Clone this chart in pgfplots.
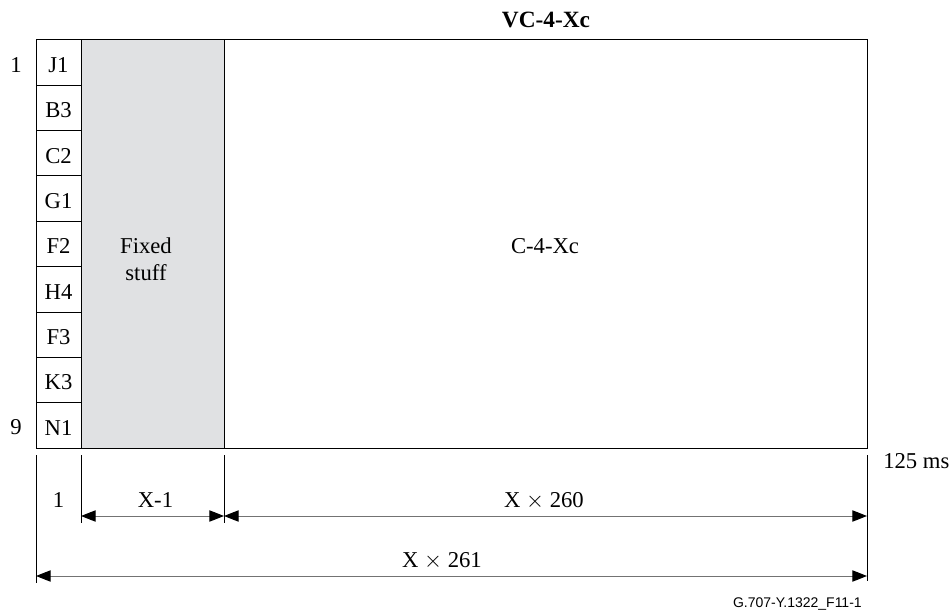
\documentclass[border=0pt]{standalone}
\usepackage{fontspec}
\setmainfont{Liberation Serif}
\newfontfamily\codefont{Liberation Sans}
\usepackage{pgfplots}
\pgfplotsset{compat=1.18}
\usetikzlibrary{arrows.meta}
\definecolor{fixedgrey}{RGB}{224,225,227}
\begin{document}
\begin{tikzpicture}
\begin{axis}[
  scale only axis, width=713.25pt, height=457.5pt,
  xmin=0, xmax=951, ymin=0, ymax=610, y dir=reverse,
  hide axis, clip=false,
  every axis plot/.append style={line width=0.75pt},
]
% invisible frame for bounding box
\addplot[draw=none, forget plot] coordinates {(0,0) (951,610)};
% grey fixed stuff
\addplot[fill=fixedgrey, draw=black] coordinates {(81,40) (224,40) (224,448) (81,448)} --cycle;
% main rectangle
\addplot[draw=black] coordinates {(36,40) (867,40) (867,448) (36,448)} --cycle;
% overhead column divider
\addplot[draw=black] coordinates {(81,40) (81,448)};
% row lines
\addplot[draw=black] coordinates {(36,85.33) (81,85.33)};
\addplot[draw=black] coordinates {(36,130.67) (81,130.67)};
\addplot[draw=black] coordinates {(36,176) (81,176)};
\addplot[draw=black] coordinates {(36,221.33) (81,221.33)};
\addplot[draw=black] coordinates {(36,266.67) (81,266.67)};
\addplot[draw=black] coordinates {(36,312) (81,312)};
\addplot[draw=black] coordinates {(36,357.33) (81,357.33)};
\addplot[draw=black] coordinates {(36,402.67) (81,402.67)};
% dimension tick lines
\addplot[draw=black, line width=0.6pt] coordinates {(36,455) (36,583)};
\addplot[draw=black, line width=0.6pt] coordinates {(81,455) (81,523)};
\addplot[draw=black, line width=0.6pt] coordinates {(224,455) (224,523)};
\addplot[draw=black, line width=0.6pt] coordinates {(867,455) (867,581)};
% dimension arrows
\tikzset{tri/.tip={Triangle[length=11pt,width=8.5pt,color=black]}}
\addplot[draw=black!55, line width=0.75pt, tri-tri] coordinates {(81,516) (224,516)};
\addplot[draw=black!55, line width=0.75pt, tri-tri] coordinates {(224,516) (867,516)};
\addplot[draw=black!55, line width=0.75pt, tri-tri] coordinates {(36,576) (867,576)};
% texts
\tikzset{lbl/.style={anchor=base, inner sep=0pt, font=\fontsize{17}{20}\selectfont}}
\node[lbl, font=\fontsize{17.5}{20}\selectfont\bfseries] at (axis cs:546,28) {VC-4-Xc};
\node[lbl] at (axis cs:16,72.5) {1};
\node[lbl] at (axis cs:16,434) {9};
\node[lbl] at (axis cs:58.5,72.5) {J1};
\node[lbl] at (axis cs:58.5,117.8) {B3};
\node[lbl] at (axis cs:58.5,163.2) {C2};
\node[lbl] at (axis cs:58.5,208.5) {G1};
\node[lbl] at (axis cs:58.5,253.8) {F2};
\node[lbl] at (axis cs:58.5,299.2) {H4};
\node[lbl] at (axis cs:58.5,344.5) {F3};
\node[lbl] at (axis cs:58.5,389.8) {K3};
\node[lbl] at (axis cs:58.5,435.2) {N1};
\node[lbl] at (axis cs:146,253) {Fixed};
\node[lbl] at (axis cs:146,280) {stuff};
\node[lbl] at (axis cs:545,253) {C-4-Xc};
\node[lbl] at (axis cs:58.5,507) {1};
\node[lbl] at (axis cs:155.5,507) {X-1};
\node[lbl] at (axis cs:544,507) {X $\times$ 260};
\node[lbl] at (axis cs:442,567) {X $\times$ 261};
\node[lbl, anchor=base west] at (axis cs:883,468) {125 ms};
\node[anchor=base east, inner sep=0pt, font=\fontsize{10.5}{12}\selectfont\codefont] at (axis cs:862,607) {G.707-Y.1322\_F11-1};
\end{axis}
\end{tikzpicture}
\end{document}
